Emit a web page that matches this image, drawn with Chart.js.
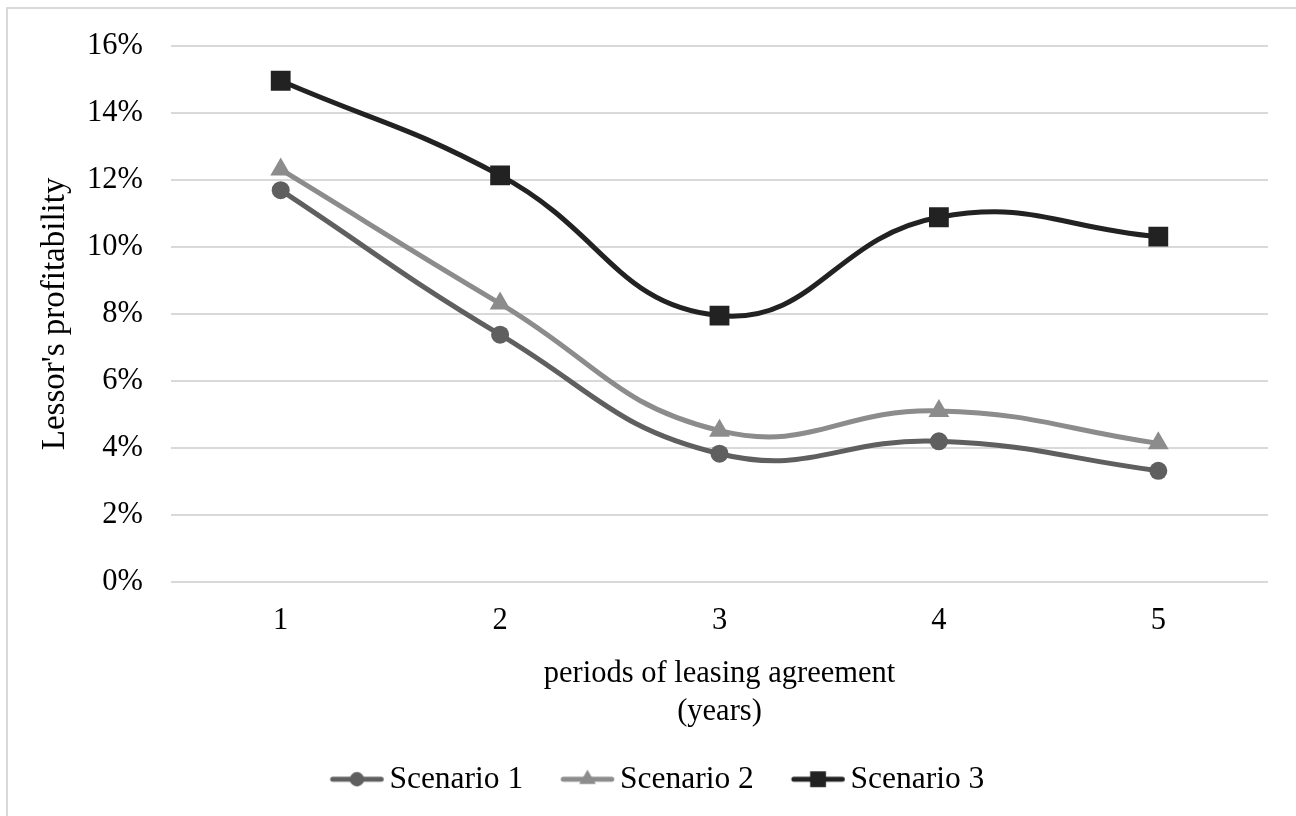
<!DOCTYPE html>
<html>
<head>
<meta charset="utf-8">
<script src="https://cdn.jsdelivr.net/npm/chart.js@4/dist/chart.umd.min.js"></script>
<style>
  html, body { margin: 0; padding: 0; background: #ffffff; }
  #wrap { width: 1296px; height: 816px; position: relative; }
</style>
</head>
<body>
<div id="wrap"><canvas id="c" width="1296" height="816"></canvas></div>
<script>
// Lessor's profitability by length of leasing agreement (years), three scenarios
const periods = ['1', '2', '3', '4', '5'];
const scenario1 = [11.70, 7.38, 3.82, 4.19, 3.31];
const scenario2 = [12.32, 8.31, 4.51, 5.10, 4.13];
const scenario3 = [14.97, 12.14, 7.95, 10.89, 10.31];
const yTicks = [0, 2, 4, 6, 8, 10, 12, 14, 16];
const seriesNames = ['Scenario 1', 'Scenario 2', 'Scenario 3'];

const FONT = "'Liberation Serif', 'Times New Roman', serif";
const colors = ['#5f5f5f', '#8c8c8c', '#222222'];
const styles = ['circle', 'triangle', 'rect'];
const radii = [9, 12, 14];

// Legend swatch: a short line with the series marker in its middle
function legendSwatch(color, style, radius) {
  const cv = document.createElement('canvas');
  cv.width = 70; cv.height = 30;
  const ctx = cv.getContext('2d');
  const cx = 42.25, cy = 15;
  ctx.strokeStyle = color;
  ctx.lineWidth = 5;
  ctx.lineCap = 'round';
  ctx.beginPath();
  ctx.moveTo(18, cy); ctx.lineTo(66.5, cy);
  ctx.stroke();
  ctx.fillStyle = color;
  ctx.beginPath();
  if (style === 'circle') {
    ctx.arc(cx, cy, radius, 0, Math.PI * 2);
  } else if (style === 'triangle') {
    const h = Math.sin(Math.PI / 3) * radius;
    ctx.moveTo(cx, cy - radius);
    ctx.lineTo(cx + h, cy + radius / 2);
    ctx.lineTo(cx - h, cy + radius / 2);
    ctx.closePath();
  } else {
    const s = Math.SQRT1_2 * radius;
    ctx.rect(cx - s, cy - s, 2 * s, 2 * s);
  }
  ctx.fill();
  return cv;
}

// Outer frame: top and left edges of the chart box
const framePlugin = {
  id: 'frame',
  beforeDraw(chart) {
    const ctx = chart.ctx;
    ctx.save();
    ctx.strokeStyle = '#d9d9d9';
    ctx.lineWidth = 2;
    ctx.beginPath();
    ctx.moveTo(7, 816); ctx.lineTo(7, 8); ctx.lineTo(1296, 8);
    ctx.stroke();
    ctx.restore();
  }
};

const seriesData = [scenario1, scenario2, scenario3];
const datasets = seriesData.map((d, i) => ({
  label: seriesNames[i],
  data: d,
  borderColor: colors[i],
  backgroundColor: colors[i],
  pointBackgroundColor: colors[i],
  pointBorderWidth: 0,
  pointStyle: styles[i],
  pointRadius: radii[i],
  pointHoverRadius: radii[i],
  borderWidth: 5,
  tension: 0.45,
  fill: false,
  order: 3 - i
}));

new Chart(document.getElementById('c'), {
  type: 'line',
  data: { labels: periods, datasets: datasets },
  options: {
    responsive: false,
    animation: false,
    layout: { padding: { left: 22, right: 8, top: 40, bottom: 11 } },
    plugins: {
      tooltip: { enabled: false },
      legend: {
        position: 'bottom',
        labels: {
          font: { family: FONT, size: 31.5 },
          color: '#000000',
          usePointStyle: true,
          pointStyleWidth: 48,
          padding: 33,
          generateLabels(chart) {
            return chart.data.datasets.map((ds, i) => ({
              text: ds.label,
              datasetIndex: i,
              pointStyle: legendSwatch(colors[i], styles[i], radii[i] * 0.8),
              fillStyle: colors[i],
              strokeStyle: colors[i],
              lineWidth: 0,
              fontColor: '#000000',
              hidden: false
            }));
          }
        }
      }
    },
    scales: {
      x: {
        type: 'category',
        offset: true,
        grid: { display: false, drawTicks: false },
        border: { display: false },
        ticks: { font: { family: FONT, size: 30.5 }, color: '#000000', padding: 21 },
        title: {
          display: true,
          text: ['periods of leasing agreement', '(years)'],
          font: { family: FONT, size: 30.5, lineHeight: 1.246 },
          color: '#000000',
          padding: { top: 0, bottom: 0 }
        },
        afterFit(scale) { scale.height = 149; }
      },
      y: {
        min: 0,
        max: 16,
        afterBuildTicks(scale) { scale.ticks = yTicks.map(v => ({ value: v })); },
        grid: { color: '#d9d9d9', lineWidth: 2, drawTicks: false },
        border: { display: false },
        ticks: {
          font: { family: FONT, size: 30.5 },
          color: '#000000',
          padding: 28,
          callback: (v) => v + '%'
        },
        title: {
          display: true,
          text: "Lessor's profitability",
          font: { family: FONT, size: 33 },
          color: '#000000',
          padding: { top: 14, bottom: 0 }
        },
        afterFit(scale) { scale.width = 149; }
      },
      // empty spacer on the right so the legend centres on the full box width
      yRight: {
        position: 'right',
        display: true,
        grid: { display: false, drawTicks: false },
        border: { display: false },
        ticks: { display: false },
        afterFit(scale) { scale.width = 20; }
      }
    }
  },
  plugins: [framePlugin]
});
</script>
</body>
</html>
